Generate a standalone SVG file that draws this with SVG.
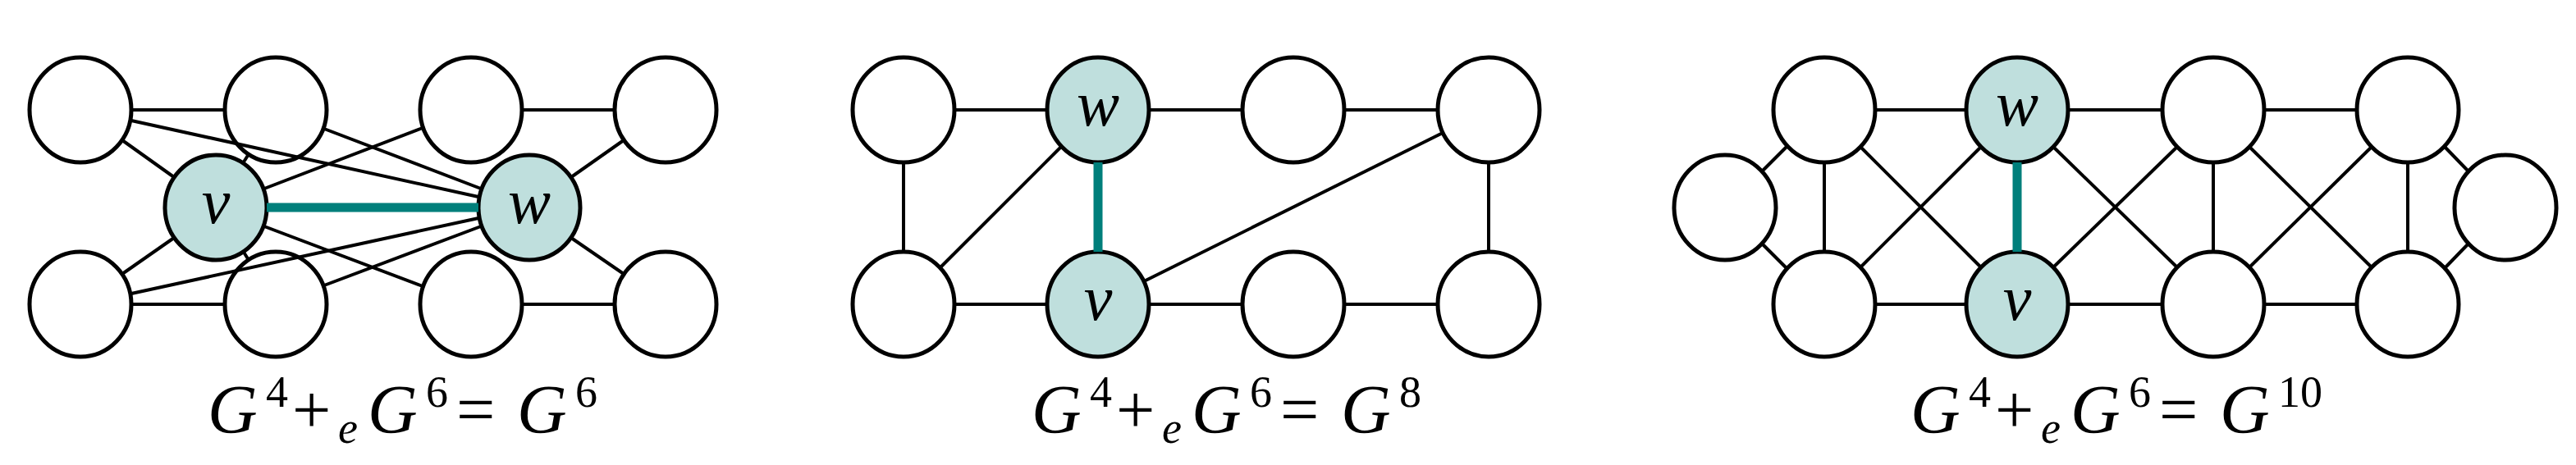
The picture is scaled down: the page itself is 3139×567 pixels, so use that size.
<svg xmlns="http://www.w3.org/2000/svg" width="3139" height="567" viewBox="0 0 3139 567">
<style>
.n{fill:#fff;stroke:#000;stroke-width:5}
.h{fill:#bfdfdd;stroke:#000;stroke-width:5}
.e line{stroke:#000;stroke-width:4}
.t{stroke:#007f7b !important;stroke-width:11 !important}
.lb{font-family:'Liberation Serif','Times New Roman',serif;font-style:italic;font-size:78px;text-anchor:middle}
.cap{font-family:'Liberation Serif','Times New Roman',serif;font-size:84px}
.i{font-style:italic}
.s{font-size:54px}
</style>
<rect width="3139" height="567" fill="#fff"/>
<g id="p1-nodes">
<g id="p1n1"><ellipse class="n" cx="98" cy="134" rx="62" ry="64"/></g>
<g id="p1n2"><ellipse class="n" cx="336" cy="134" rx="62" ry="64"/></g>
<g id="p1n3"><ellipse class="n" cx="574" cy="134" rx="62" ry="64"/></g>
<g id="p1n4"><ellipse class="n" cx="811" cy="134" rx="62" ry="64"/></g>
<g id="p1n5"><ellipse class="n" cx="98" cy="371" rx="62" ry="64"/></g>
<g id="p1n6"><ellipse class="n" cx="336" cy="371" rx="62" ry="64"/></g>
<g id="p1n7"><ellipse class="n" cx="574" cy="371" rx="62" ry="64"/></g>
<g id="p1n8"><ellipse class="n" cx="811" cy="371" rx="62" ry="64"/></g>
<g id="p1v"><ellipse class="h" cx="263" cy="253" rx="62" ry="64"/><text class="lb" x="263" y="272">v</text></g>
<g id="p1w"><ellipse class="h" cx="645" cy="253" rx="62" ry="64"/><text class="lb" x="645" y="272">w</text></g>
</g>
<g id="p2-nodes">
<g id="p2n1"><ellipse class="n" cx="1101" cy="134" rx="62" ry="64"/></g>
<g id="p2w"><ellipse class="h" cx="1338" cy="134" rx="62" ry="64"/><text class="lb" x="1338" y="153">w</text></g>
<g id="p2n3"><ellipse class="n" cx="1576" cy="134" rx="62" ry="64"/></g>
<g id="p2n4"><ellipse class="n" cx="1814" cy="134" rx="62" ry="64"/></g>
<g id="p2n5"><ellipse class="n" cx="1101" cy="371" rx="62" ry="64"/></g>
<g id="p2v"><ellipse class="h" cx="1338" cy="371" rx="62" ry="64"/><text class="lb" x="1338" y="390">v</text></g>
<g id="p2n7"><ellipse class="n" cx="1576" cy="371" rx="62" ry="64"/></g>
<g id="p2n8"><ellipse class="n" cx="1814" cy="371" rx="62" ry="64"/></g>
</g>
<g id="p3-nodes">
<g id="p3a"><ellipse class="n" cx="2102" cy="253" rx="62" ry="64"/></g>
<g id="p3t1"><ellipse class="n" cx="2223" cy="134" rx="62" ry="64"/></g>
<g id="p3w"><ellipse class="h" cx="2458" cy="134" rx="62" ry="64"/><text class="lb" x="2458" y="153">w</text></g>
<g id="p3t3"><ellipse class="n" cx="2697" cy="134" rx="62" ry="64"/></g>
<g id="p3t4"><ellipse class="n" cx="2934" cy="134" rx="62" ry="64"/></g>
<g id="p3b1"><ellipse class="n" cx="2223" cy="371" rx="62" ry="64"/></g>
<g id="p3v"><ellipse class="h" cx="2458" cy="371" rx="62" ry="64"/><text class="lb" x="2458" y="390">v</text></g>
<g id="p3b3"><ellipse class="n" cx="2697" cy="371" rx="62" ry="64"/></g>
<g id="p3b4"><ellipse class="n" cx="2934" cy="371" rx="62" ry="64"/></g>
<g id="p3z"><ellipse class="n" cx="3053" cy="253" rx="62" ry="64"/></g>
</g>
<g id="connectors" class="e">
<line x1="161" y1="134" x2="273" y2="134"/>
<line x1="637" y1="134" x2="748" y2="134"/>
<line x1="161" y1="371" x2="273" y2="371"/>
<line x1="637" y1="371" x2="748" y2="371"/>
<line x1="149" y1="171" x2="212" y2="216"/>
<line x1="160" y1="147" x2="583" y2="240"/>
<line x1="303" y1="188" x2="296" y2="199"/>
<line x1="395" y1="157" x2="586" y2="230"/>
<line x1="515" y1="156" x2="322" y2="230"/>
<line x1="760" y1="171" x2="696" y2="216"/>
<line x1="149" y1="334" x2="212" y2="290"/>
<line x1="160" y1="358" x2="583" y2="266"/>
<line x1="303" y1="317" x2="296" y2="306"/>
<line x1="395" y1="348" x2="586" y2="276"/>
<line x1="515" y1="349" x2="322" y2="276"/>
<line x1="760" y1="334" x2="696" y2="290"/>
<line class="t" x1="325" y1="253" x2="583" y2="253"/>

<line x1="1164" y1="134" x2="1275" y2="134"/>
<line x1="1401" y1="134" x2="1513" y2="134"/>
<line x1="1639" y1="134" x2="1751" y2="134"/>
<line x1="1164" y1="371" x2="1275" y2="371"/>
<line x1="1401" y1="371" x2="1513" y2="371"/>
<line x1="1639" y1="371" x2="1751" y2="371"/>
<line x1="1101" y1="198" x2="1101" y2="307"/>
<line x1="1814" y1="198" x2="1814" y2="307"/>
<line x1="1294" y1="178" x2="1147" y2="325"/>
<line x1="1394" y1="343" x2="1758" y2="162"/>
<line class="t" x1="1338" y1="198" x2="1338" y2="307"/>

<line x1="2147" y1="209" x2="2178" y2="178"/>
<line x1="2147" y1="297" x2="2178" y2="328"/>
<line x1="2223" y1="198" x2="2223" y2="307"/>
<line x1="2286" y1="134" x2="2395" y2="134"/>
<line x1="2521" y1="134" x2="2634" y2="134"/>
<line x1="2760" y1="134" x2="2871" y2="134"/>
<line x1="2286" y1="371" x2="2395" y2="371"/>
<line x1="2521" y1="371" x2="2634" y2="371"/>
<line x1="2760" y1="371" x2="2871" y2="371"/>
<line x1="2267" y1="179" x2="2414" y2="326"/>
<line x1="2267" y1="326" x2="2414" y2="179"/>
<line x1="2502" y1="179" x2="2653" y2="326"/>
<line x1="2502" y1="326" x2="2653" y2="179"/>
<line x1="2697" y1="198" x2="2697" y2="307"/>
<line x1="2741" y1="179" x2="2890" y2="326"/>
<line x1="2741" y1="326" x2="2890" y2="179"/>
<line x1="2934" y1="198" x2="2934" y2="307"/>
<line x1="3008" y1="209" x2="2978" y2="178"/>
<line x1="3008" y1="297" x2="2978" y2="328"/>
<line class="t" x1="2458" y1="198" x2="2458" y2="307"/>
</g>
<g id="captions">
<text class="cap" y="528"><tspan class="i" x="253">G</tspan><tspan class="s" x="324" y="496">4</tspan><tspan x="356" y="528">+</tspan><tspan class="s i" x="412" y="540">e</tspan><tspan class="i" x="448" y="528">G</tspan><tspan class="s" x="519" y="496">6</tspan><tspan x="556" y="528">=</tspan><tspan class="i" x="630" y="528">G</tspan><tspan class="s" x="701" y="496">6</tspan></text>
<text class="cap" y="528"><tspan class="i" x="1257">G</tspan><tspan class="s" x="1328" y="496">4</tspan><tspan x="1360" y="528">+</tspan><tspan class="s i" x="1416" y="540">e</tspan><tspan class="i" x="1452" y="528">G</tspan><tspan class="s" x="1523" y="496">6</tspan><tspan x="1560" y="528">=</tspan><tspan class="i" x="1634" y="528">G</tspan><tspan class="s" x="1705" y="496">8</tspan></text>
<text class="cap" y="528"><tspan class="i" x="2328">G</tspan><tspan class="s" x="2399" y="496">4</tspan><tspan x="2431" y="528">+</tspan><tspan class="s i" x="2487" y="540">e</tspan><tspan class="i" x="2523" y="528">G</tspan><tspan class="s" x="2594" y="496">6</tspan><tspan x="2631" y="528">=</tspan><tspan class="i" x="2705" y="528">G</tspan><tspan class="s" x="2776" y="496">10</tspan></text>
</g>
</svg>
